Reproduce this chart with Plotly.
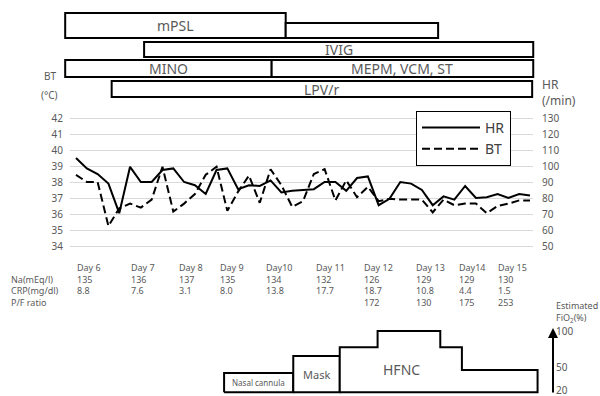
import plotly.graph_objects as go

# ---------------- data ----------------
hr = [105, 98.5, 95, 89, 70.5, 99.5, 90, 90, 97.5, 98.5,
      90, 88, 82.5, 97.5, 98.5, 85.5, 88, 87.5, 91, 83.5,
      84.5, 85, 85.5, 90, 90, 84.5, 92.5, 93.5, 75.5, 79.5,
      90, 89, 85, 75.5, 81, 79, 87.5, 80, 80.5, 82.5,
      80, 82.5, 81.5]
bt = [38.45, 38.0, 38.0, 35.25, 36.35, 36.65, 36.4, 36.9, 38.95, 36.15,
      36.65, 37.25, 38.45, 38.95, 36.2, 37.4, 38.4, 36.7, 38.8, 37.8,
      36.45, 36.8, 38.5, 38.8, 36.85, 38.1, 37.05, 37.7, 36.8, 36.95,
      36.9, 36.9, 36.9, 36.1, 36.9, 36.55, 36.65, 36.65, 36.05, 36.5,
      36.65, 36.85, 36.85]
sample_idx = list(range(len(hr)))

days = ["Day 6", "Day 7", "Day 8", "Day 9", "Day10", "Day 11", "Day 12", "Day 13", "Day14", "Day 15"]
na = ["135", "136", "137", "135", "134", "132", "126", "129", "129", "130"]
crp = ["8.8", "7.6", "3.1", "8.0", "13.8", "17.7", "18.7", "10.8", "4.4", "1.5"]
pf = ["", "", "", "", "", "", "172", "130", "175", "253"]
row_names = ["Na(mEq/l)", "CRP(mg/dl)", "P/F ratio"]

bt_ticks = [34, 35, 36, 37, 38, 39, 40, 41, 42]
hr_ticks = [50, 60, 70, 80, 90, 100, 110, 120, 130]

med_names = ["mPSL", "", "IVIG", "MINO", "MEPM, VCM, ST", "LPV/r"]
med_start = [-1.0, 19.4, 6.3, -1.0, 18.1, 3.3]
med_end = [19.4, 33.5, 42.3, 18.1, 42.3, 42.2]

o2_device = ["Nasal cannula", "Mask", "HFNC", "HFNC", "HFNC", "HFNC"]
o2_start = [13.7, 20.1, 24.4, 27.9, 33.7, 35.7]
o2_end = [20.1, 24.4, 27.9, 33.7, 35.7, 42.7]
o2_fio2 = [43, 66, 78, 100, 78, 47]
o2_floor = 17
fio2_ticks = [20, 50, 100]

# ---------------- layout geometry ----------------
W, H = 600, 396
PX0, STEP = 76.0, (530.0 - 76.0) / 42.0


def px2x(px):
    return (px - PX0) / STEP


def py(px):
    return 1 - px / H


FONT = "Noto Sans"
GRAY = "#595959"

# medication rows (top, bottom) in page pixels
med_rows = [(13, 38), (23, 38), (42, 57), (60, 77), (60, 77), (81, 97)]

# FiO2 scale: 100 % at pixel 331, 0.7375 px per %
F_PX100, F_K = 331.0, 0.7375
f_lo, f_hi = 14, 110
f_dom = [py(F_PX100 + (100 - f_lo) * F_K), py(F_PX100 - (f_hi - 100) * F_K)]

fig = go.Figure()

fig.add_trace(go.Scatter(x=sample_idx, y=hr, name="HR", mode="lines", yaxis="y2",
                         line=dict(color="black", width=2), hoverinfo="skip"))
fig.add_trace(go.Scatter(x=sample_idx, y=bt, name="BT", mode="lines", yaxis="y",
                         line=dict(color="black", width=2, dash="8px,4px"), hoverinfo="skip"))

# medication bars
fig.add_trace(go.Bar(
    orientation="h",
    base=med_start,
    x=[e - s for s, e in zip(med_start, med_end)],
    y=[(t + b) / 2 for t, b in med_rows],
    width=[b - t for t, b in med_rows],
    marker=dict(color="white", line=dict(color="black", width=2)),
    xaxis="x2", yaxis="y3", showlegend=False, hoverinfo="skip"))

annotations = []


def note(x, y, text, size, xanchor="center", yanchor="middle", color=GRAY,
         xref="paper", yref="paper", align="left"):
    annotations.append(dict(x=x, y=y, xref=xref, yref=yref, text=text, showarrow=False,
                            xanchor=xanchor, yanchor=yanchor, align=align, borderpad=0,
                            font=dict(family=FONT, size=size, color=color)))


for name, s, e, (t, b) in zip(med_names, med_start, med_end, med_rows):
    if name:
        note((s + e) / 2, (t + b) / 2, name, 14, xref="x2", yref="y3")

# oxygen device polygons
for dev in ["Nasal cannula", "Mask", "HFNC"]:
    segs = [(s, e, f) for d, s, e, f in zip(o2_device, o2_start, o2_end, o2_fio2) if d == dev]
    xs = [segs[0][0]]
    ys = [o2_floor]
    for s, e, f in segs:
        xs += [s, e]
        ys += [f, f]
    xs += [segs[-1][1], segs[0][0]]
    ys += [o2_floor, o2_floor]
    fig.add_trace(go.Scatter(x=xs, y=ys, mode="lines", fill="toself", fillcolor="white",
                             line=dict(color="black", width=2), xaxis="x2", yaxis="y4",
                             showlegend=False, hoverinfo="skip"))
    if dev != "HFNC":
        note((segs[0][0] + segs[-1][1]) / 2, (segs[0][2] + o2_floor) / 2, dev,
             11 if dev == "Mask" else 8, xref="x2", yref="y4")

note(401 / W, py(369), "HFNC", 14)

# FiO2 arrow and title
annotations.append(dict(x=553 / W, y=104, xref="paper", yref="y4", text="", showarrow=True,
                        ax=0, ay=66, arrowhead=2, arrowsize=1, arrowwidth=2, arrowcolor="black"))
note(555 / W, py(311.5), "Estimated<br>FiO<sub>2</sub>(%)", 9, xanchor="left")

# axis titles
note(50 / W, py(76), "BT", 10)
note(49 / W, py(95), "(°C)", 10)
note(541 / W, py(92.5), "HR<br>(/min)", 12, xanchor="left")

# table: one text block per column, rows separated by line breaks
col_x = [76, 130, 178, 219, 265, 315, 363, 415, 458, 497]
note(10 / W, py(260), "<br>".join(["&nbsp;"] + row_names), 9, xanchor="left", yanchor="top")
for d, n, c, p, x in zip(days, na, crp, pf, col_x):
    note(x / W, py(260), "<br>".join([d, n, c, p or "&nbsp;"]), 9, xanchor="left", yanchor="top")

fig.update_layout(
    width=W, height=H, margin=dict(l=0, r=0, t=0, b=0, autoexpand=False),
    paper_bgcolor="white", plot_bgcolor="rgba(0,0,0,0)",
    font=dict(family=FONT, color=GRAY),
    xaxis=dict(domain=[70 / W, 533 / W], range=[px2x(70), px2x(533)], visible=False),
    yaxis=dict(domain=[py(254), py(110)], range=[33.5, 42.5], tickvals=bt_ticks,
               showgrid=True, gridcolor="#d9d9d9", gridwidth=1, zeroline=False, showline=False,
               ticks="", ticklabelstandoff=6, automargin=False,
               tickfont=dict(family=FONT, size=10, color=GRAY)),
    yaxis2=dict(overlaying="y", side="right", range=[45, 135], tickvals=hr_ticks,
                showgrid=False, zeroline=False, showline=False, ticks="", ticklabelstandoff=8,
                automargin=False, tickfont=dict(family=FONT, size=10, color=GRAY)),
    xaxis2=dict(domain=[0, 1], range=[px2x(0), px2x(W)], visible=False, anchor="y3"),
    yaxis3=dict(domain=[0, 1], range=[H, 0], visible=False, anchor="x2"),
    yaxis4=dict(domain=f_dom, range=[f_lo, f_hi], anchor="free", position=553 / W, side="right",
                tickvals=fio2_ticks, showgrid=False, zeroline=False, showline=False, ticks="",
                ticklabelstandoff=2, automargin=False, ticklabeloverflow="allow",
                tickfont=dict(family=FONT, size=10, color=GRAY)),
    legend=dict(x=416 / W, y=py(111), xanchor="left", yanchor="top", bgcolor="white",
                bordercolor="black", borderwidth=1, itemwidth=58,
                font=dict(family=FONT, size=14, color="#404040")),
    annotations=annotations,
    showlegend=True,
)

fig.write_html("out.html", config={"displayModeBar": False},
               post_script="document.body.style.margin='0px';")
